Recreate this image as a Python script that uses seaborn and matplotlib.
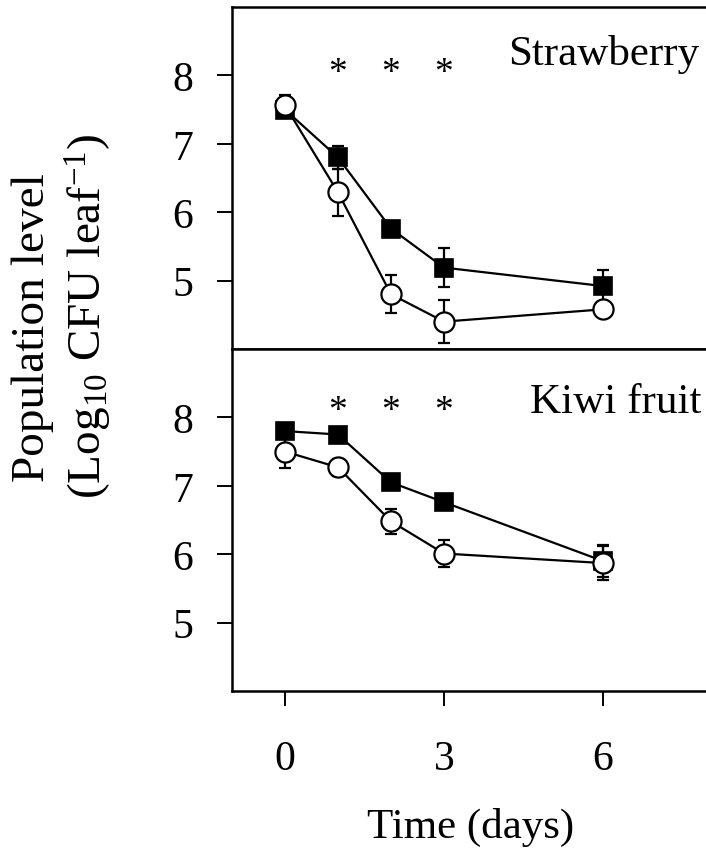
import matplotlib
matplotlib.use("Agg")
import matplotlib.pyplot as plt
import seaborn as sns
import numpy as np
import pandas as pd

# ---------------- data ----------------
days = [0, 1, 2, 3, 6]
panels = ["Strawberry", "Kiwi fruit"]

straw_sq = [7.50, 6.80, 5.76, 5.19, 4.92]
straw_sq_err = [0.08, 0.17, 0.06, 0.29, 0.24]
straw_ci = [7.56, 6.29, 4.80, 4.40, 4.58]
straw_ci_err = [0.15, 0.34, 0.28, 0.31, 0.10]

kiwi_sq = [7.80, 7.75, 7.05, 6.76, 5.90]
kiwi_sq_err = [0.06, 0.06, 0.06, 0.06, 0.23]
kiwi_ci = [7.50, 7.27, 6.48, 6.01, 5.87]
kiwi_ci_err = [0.24, 0.12, 0.18, 0.20, 0.25]

star_days = [1, 2, 3]
y_ticks = [5, 6, 7, 8]
x_ticks = [0, 3, 6]

# ---------------- style ----------------
sns.set_theme(style="ticks")
plt.rcParams["font.family"] = ["Liberation Serif", "DejaVu Serif"]
plt.rcParams["mathtext.fontset"] = "custom"
plt.rcParams["mathtext.rm"] = "Liberation Serif"
plt.rcParams["mathtext.it"] = "Liberation Serif:italic"

W, H = 706, 853
fig = plt.figure(figsize=(W / 100, H / 100), dpi=100)

left = 232 / W
width = 477 / W
ax_h = 342 / H
ax_top = fig.add_axes([left, 1 - 350 / H, width, ax_h])
ax_bot = fig.add_axes([left, 1 - 692 / H, width, ax_h])

series = [
    (ax_top, straw_sq, straw_sq_err, straw_ci, straw_ci_err, "Strawberry", 8.17, 7.81, 7.90),
    (ax_bot, kiwi_sq, kiwi_sq_err, kiwi_ci, kiwi_ci_err, "Kiwi fruit", 8.08, 7.85, 7.96),
]

for ax, sq, sqe, ci, cie, name, ty, tx, sy in series:
    # filled squares
    ax.errorbar(days, sq, yerr=sqe, fmt="none", ecolor="black", elinewidth=1.6,
                capsize=4.5, capthick=1.6, zorder=2)
    sns.lineplot(x=days, y=sq, ax=ax, color="black", linewidth=1.6, marker="s",
                 markersize=13, markerfacecolor="black", markeredgecolor="black",
                 markeredgewidth=1.2, zorder=3)
    # open circles
    ax.errorbar(days, ci, yerr=cie, fmt="none", ecolor="black", elinewidth=1.6,
                capsize=4.5, capthick=1.6, zorder=4)
    sns.lineplot(x=days, y=ci, ax=ax, color="black", linewidth=1.6, marker="o",
                 markersize=14.5, markerfacecolor="white", markeredgecolor="black",
                 markeredgewidth=1.6, zorder=5)

    for d in star_days:
        ax.text(d, sy, "*", ha="center", va="baseline", fontsize=27, color="black")
    ax.text(tx, ty, name, ha="right", va="baseline", fontsize=31, color="black")

    ax.set_xlim(-1, 8)
    ax.set_ylim(4, 9)
    ax.set_yticks(y_ticks)
    ax.set_xticks(x_ticks)
    ax.set_xlabel("")
    ax.set_ylabel("")
    ax.spines["right"].set_visible(False)
    for s in ["left", "top", "bottom"]:
        ax.spines[s].set_linewidth(1.8)
        ax.spines[s].set_color("black")
    ax.tick_params(axis="both", direction="out", length=11, width=1.4,
                   colors="black", labelsize=30)
    ax.tick_params(axis="y", pad=17)
    ax.tick_params(axis="x", pad=24)
    ax.grid(False)
    ax.set_facecolor("white")

ax_top.tick_params(axis="x", labelbottom=False)

ax_bot.set_xlabel("Time (days)", fontsize=31, labelpad=21, color="black")

fig.text(33 / W, 1 - 328 / H, "Population level", rotation=90, ha="center",
         va="center", fontsize=34, color="black")
fig.text(88 / W, 1 - 316 / H, "(Log$_{10}$ CFU leaf$^{\\mathregular{-1}}$)", rotation=90,
         ha="center", va="center", fontsize=34, color="black")

fig.savefig("out.png", dpi=100, facecolor="white")
